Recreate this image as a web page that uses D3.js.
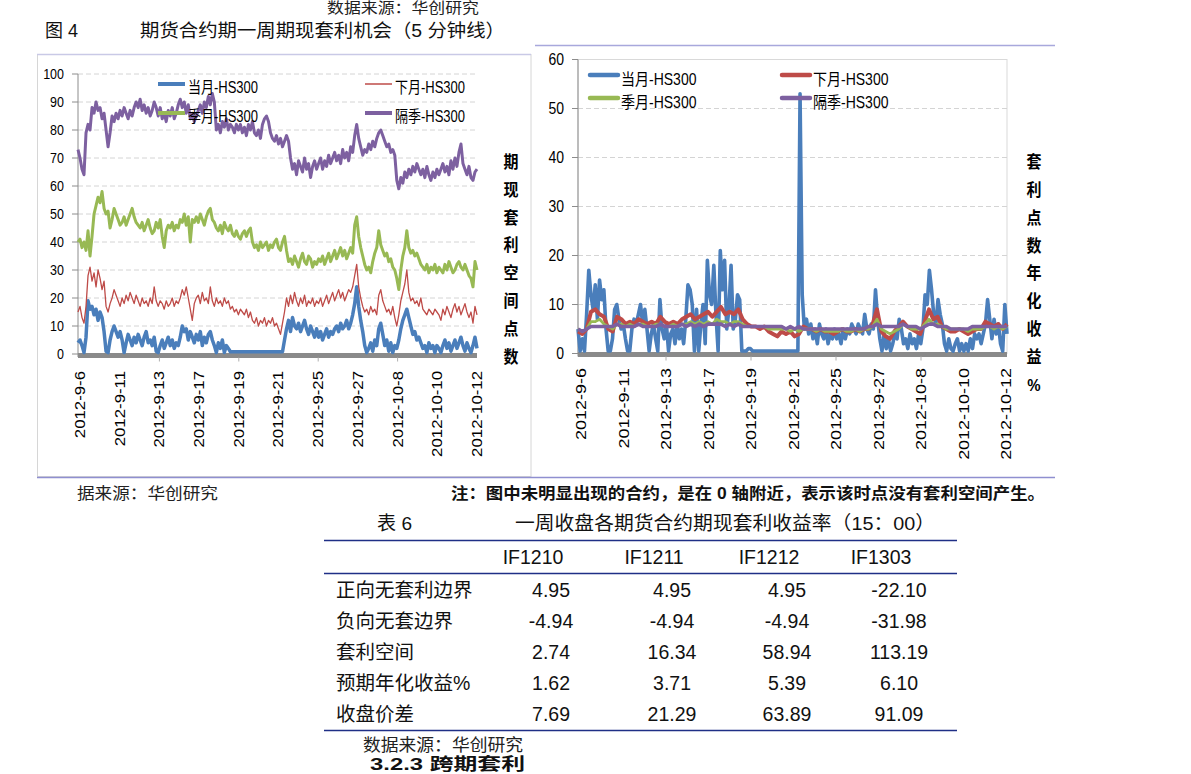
<!DOCTYPE html>
<html><head><meta charset="utf-8">
<script src="https://cdn.jsdelivr.net/npm/d3@7"></script>
<style>
body{margin:0;background:#fff;}
svg{display:block;font-family:"Liberation Sans","Noto Sans CJK SC",Arial,sans-serif;}
</style></head><body>
<svg id="c" width="1191" height="774"></svg>
<script>
// ---------- data ----------
const dateLabels = ["2012-9-6","2012-9-11","2012-9-13","2012-9-17","2012-9-19","2012-9-21","2012-9-25","2012-9-27","2012-10-8","2012-10-10","2012-10-12"];
const seriesNames = ["当月-HS300","下月-HS300","季月-HS300","隔季-HS300"];
const leftYTicks = [0,10,20,30,40,50,60,70,80,90,100];
const rightYTicks = [0,10,20,30,40,50,60];

// left chart: 期现套利空间点数
const spreadCurrent = [4,5,3,0.5,6,19,16,17,14,16,12,15,13,8,1,0.5,5,8,10,8,
 6,8,5,0.5,4,7,5,3,6,4,7,5,3,6,8,4,5,3,6,1,
 0.5,3,5,2,4,6,3,5,2,4,3,6,10,8,9,5,8,6,4,7,
 5,8,3,6,4,7,8,5,3,0.5,4,2,5,0.5,3,2,0.8,0.8,0.8,0.8,
 0.8,0.8,0.8,0.8,0.8,0.8,0.8,0.8,0.8,0.8,0.8,0.8,0.8,0.8,0.8,0.8,0.8,0.8,0.8,0.8,
 0.8,0.8,0.8,5,9,12,8,13,10,9,11,8,10,12,9,7,10,8,6,9,
 6,8,5,7,9,6,8,7,9,10,8,11,9,10,12,9,11,14,18,24,
 17,12,8,3,0.5,2,4,1,5,3,9,11,7,3,5,1,4,0.5,3,2,
 5,9,12,14,16,13,10,7,8,5,6,4,2,3,0.5,4,2,3,0.5,3,
 2,0.5,3,5,2,4,1,3,5,2,4,6,3,1,4,2,0.5,3,6,2];
const spreadNext = [15,17,13,11,17,28,31,26,29,24,30,27,23,26,17,15,18,20,23,21,
 19,17,20,18,21,19,22,20,18,21,19,17,20,18,19,17,20,18,24,19,
 17,19,18,16,19,17,18,20,17,19,18,20,23,21,24,20,16,12,18,20,
 21,18,22,19,20,18,24,19,17,20,18,19,17,20,18,19,16,17,15,16,
 14,16,15,14,16,13,15,12,11,13,10,12,11,13,10,12,11,13,10,11,
 9,7,11,15,20,17,21,18,22,19,17,20,18,21,17,19,18,20,17,19,
 18,20,17,19,21,18,20,22,19,21,23,20,22,19,21,23,22,24,28,32,
 24,20,17,15,16,14,17,15,16,14,21,23,19,17,15,16,14,17,13,10,
 14,19,22,25,30,22,19,20,18,19,17,20,16,15,14,16,15,14,16,15,
 14,12,16,14,17,15,13,16,18,15,17,14,16,18,15,13,15,11,17,14];
const spreadSeason = [40,41,38,40,37,44,35,42,50,53,56,54,58,52,50,51,45,48,52,50,
 48,46,47,49,46,48,50,52,49,47,46,45,47,44,46,48,45,43,44,47,
 45,48,42,38,44,46,45,47,44,46,45,48,47,50,46,49,40,48,47,49,
 47,50,48,46,49,51,52,48,47,45,44,46,43,47,45,44,46,43,42,44,
 42,41,43,44,42,44,45,40,38,39,37,40,38,39,40,37,39,38,40,41,
 38,37,40,42,37,33,34,32,35,33,31,34,36,33,32,35,34,31,33,32,
 34,33,35,32,34,36,33,35,37,34,36,38,35,37,34,36,38,36,46,49,
 42,38,35,32,30,31,29,33,36,38,44,39,37,35,36,33,34,31,30,27,
 23,30,35,38,44,38,36,37,35,36,34,32,31,30,32,29,31,30,32,29,
 31,30,29,32,30,33,31,29,30,32,33,31,30,32,30,28,27,24,33,30];
const spreadNextSeason = [73,70,66,64,79,82,80,88,86,90,87,88,84,86,80,74,79,85,83,86,
 84,87,85,88,86,84,87,85,88,90,88,91,87,89,86,88,85,87,90,88,
 85,88,84,86,83,87,85,88,84,86,89,91,88,90,86,89,84,86,83,85,
 87,89,86,90,88,92,89,93,90,80,82,79,83,81,84,80,82,81,79,82,
 80,82,79,81,78,82,80,83,79,78,80,77,82,84,85,83,79,77,76,78,
 75,77,74,76,78,76,70,66,68,64,69,67,65,70,66,68,63,67,69,66,
 68,70,66,69,67,71,68,70,72,69,71,68,73,70,72,69,74,72,78,82,
 77,74,71,73,72,75,73,76,74,77,79,80,78,76,74,75,72,73,71,62,
 59,63,61,65,63,66,64,67,65,68,66,64,66,63,67,64,62,65,63,66,
 64,66,68,65,67,64,69,66,70,67,72,75,68,66,64,67,63,62,65,66];

// right chart: 套利点数年化收益%
const yieldCurrent = [5,0.5,3,0.5,8,17,12,9,14,7,15,11,13,5,0.5,0.5,3,9,10,7,
 5,6,3,0.5,0.5,5,7,6,8,10,6,9,5,0.5,4,6,3,0.5,11,5,
 3,6,0.5,4,5,2,6,3,5,2,7,14,13,10,0.5,9,0.5,6,10,2,
 19,12,10,18,8,0.5,21,13,19,5,9,18,5,7,12,11,0.5,0.5,0.5,1,
 1,0.5,0.5,0.5,0.5,0.5,0.5,0.5,0.5,0.5,0.5,0.5,0.5,0.5,0.5,0.5,0.5,0.5,0.5,0.5,
 0.5,0.5,0.5,53,12,5,7,4,6,3,5,2,6,4,3,5,2,4,3,5,
 3,4,2,5,3,5,4,6,5,4,6,5,4,8,5,4,6,5,13,7,
 3,0.5,4,1,3,0.5,2,4,3,7,5,2,3,1,4,2,3,1,4,2,
 5,12,10,17,13,8,6,11,8,6,2,0.5,3,1,0.5,2,3,0.5,2,0.5,
 2,0.5,3,1,4,3,4,2,4,6,11,7,3,7,4,6,2,0.5,10,4];
const yieldNext = [4.5,4,5,8.5,9,8,7.5,5,4.5,7.5,
 7,6,6.5,6,7,6.5,6,6.5,6,7.5,
 6.5,6,6.5,6,7,7.5,8,7,7.5,8,
 8.5,7.5,8.5,9.5,8,8.5,8,9,7,6,
 5.5,5.5,5,5.5,4.5,4,3.5,4.5,4,4.5,
 3.5,4,5.5,5,5,4.5,5,4.5,4.5,4,
 4.5,5,4.5,4.5,5,4.5,5,5,6,9,
 4.5,3.5,3,4.5,5.5,6.5,5.5,5,4.5,4,
 6.5,9,7,7.5,5.5,5,4.5,4.5,5,4.5,
 4,4.5,5,5,6.5,6,5.5,6,5,6];
const yieldSeason = [5,4.5,5,6.5,6.5,7,6,5.5,5,6,
 6,5.5,6,5.5,6,6,5.5,5.5,6,6,
 5.5,5.5,6,5.5,6,6,6.5,6,6.5,6,
 6.5,6,7,6.5,6.5,6,6.5,6.5,6,5.5,
 5.5,5.5,5.5,5.5,5,5,5,5,5,4.5,
 5,4.5,5,5,5,4.5,5,4.5,4.5,4.5,
 4.5,5,4.5,4.5,5,4.5,5,5,5.5,7,
 5,4.5,4,4.5,5,6,5.5,5,5,5,
 6,7,6,6,5.5,5,5,5,5,5,
 4.5,5,5,5,5.5,5.5,5,5.5,5,5.5];
const yieldNextSeason = [5,4.5,5,5.5,5.5,5.5,5.5,5.5,5.5,6,
 5.5,5.5,5.5,5.5,6,5.5,5.5,5.5,5.5,6,
 5.5,5.5,5.5,5.5,6,5.5,6,5.5,6,5.5,
 6,6,6,6,5.5,6,5.5,6,5.5,5.5,
 5.5,5.5,5.5,5.5,5.5,5.5,5.5,5.5,5,5.5,
 5,5.5,5,5,5,5,5,5,5,5,
 5,5,5,5,5,5,5,5.5,5.5,6,
 5.5,5.5,5.5,5.5,5.5,6,5.5,5.5,5.5,5,
 5.5,6,6,5.5,5.5,5.5,5,5,5,5,
 5,5.5,5.5,5.5,5.5,5.5,5.5,5.5,5.5,5.5];

// table
const tableColumns = ["IF1210","IF1211","IF1212","IF1303"];
const tableRowLabels = ["正向无套利边界","负向无套边界","套利空间","预期年化收益%","收盘价差"];
const rowPositiveBound = [4.95,4.95,4.95,-22.10];
const rowNegativeBound = [-4.94,-4.94,-4.94,-31.98];
const rowArbSpace = [2.74,16.34,58.94,113.19];
const rowExpectedYield = [1.62,3.71,5.39,6.10];
const rowCloseSpread = [7.69,21.29,63.89,91.09];

// ---------- drawing ----------
const svg = d3.select("#c");
const colors = ["#4a7ebb","#be4b48","#98b954","#7d60a0"];

function stext(parent, x, y, str, o) {
  o = Object.assign({size:14, anchor:"start", sx:1, sy:1, rot:0, weight:"normal", fill:"#000"}, o||{});
  const t = parent.append("text")
    .attr("transform", `translate(${x},${y}) rotate(${o.rot}) scale(${o.sx},${o.sy})`)
    .attr("text-anchor", o.anchor).attr("dy", "0.35em")
    .style("font-size", o.size + "px").style("font-weight", o.weight)
    .attr("fill", o.fill).text(str);
  if (o.len) t.attr("textLength", o.len).attr("lengthAdjust", "spacingAndGlyphs");
  return t;
}

// page header
stext(svg, 327, 8, "数据来源：华创研究", {size:15, fill:"#222", len:152});
stext(svg, 45, 31, "图 4", {size:18, fill:"#111", len:33});
stext(svg, 140, 31, "期货合约期一周期现套利机会（5 分钟线）", {size:18.5, fill:"#111", len:365});
svg.append("line").attr("x1",535).attr("x2",1055).attr("y1",45.5).attr("y2",45.5).attr("stroke","#a8a8dc").attr("stroke-width",1.3);

// left chart box
svg.append("rect").attr("x",37.5).attr("y",54.5).attr("width",493.5).attr("height",422).attr("fill","none").attr("stroke","#d6d6d6");
svg.append("line").attr("x1",37).attr("x2",531).attr("y1",54.5).attr("y2",54.5).attr("stroke","#c9c9e6").attr("stroke-width",1.5);

function drawChart(cfg) {
  const g = svg.append("g");
  const top = cfg.ticks[cfg.ticks.length-1];
  const y = d3.scaleLinear().domain([0, top]).range([cfg.yb, cfg.yt]);
  const xl = d3.scalePoint().domain(dateLabels).range(cfg.labRange);
  if (cfg.border) {
    g.append("rect").attr("x", cfg.x0).attr("y", y(top)).attr("width", cfg.x1-cfg.x0)
      .attr("height", cfg.yb - y(top)).attr("fill","none").attr("stroke","#d9d9d9");
  }
  g.selectAll(".grid").data(cfg.ticks.filter(t => t > 0 && (!cfg.border || t < top)))
    .enter().append("line").attr("x1", cfg.x0).attr("x2", cfg.x1)
    .attr("y1", d => y(d)).attr("y2", d => y(d))
    .attr("stroke","#d4d4d4").attr("stroke-dasharray","5,3");
  g.append("line").attr("x1", cfg.x0).attr("x2", cfg.x0).attr("y1", y(top)).attr("y2", cfg.yb+3).attr("stroke","#8c8c8c");
  cfg.ticks.forEach(t => {
    g.append("line").attr("x1", cfg.x0-6).attr("x2", cfg.x0).attr("y1", y(t)).attr("y2", y(t)).attr("stroke","#8c8c8c");
    stext(g, cfg.ylabX, y(t), String(t), {size:cfg.ySize, anchor:"end", sy:cfg.stretch});
  });
  g.append("line").attr("x1", cfg.x0).attr("x2", cfg.x1).attr("y1", y(0)+cfg.bandOff).attr("y2", y(0)+cfg.bandOff)
    .attr("stroke","#8a8a8a").attr("stroke-width",5);
  dateLabels.forEach((d,i) => {
    if (i % 2 === 0 && i > 0 && i < dateLabels.length-1) {
      g.append("line").attr("x1", xl(d)).attr("x2", xl(d)).attr("y1", y(0)+cfg.bandOff+2).attr("y2", y(0)+cfg.bandOff+6).attr("stroke","#b0b0b0");
    }
  });
  cfg.series.forEach((s, k) => {
    const x = d3.scaleLinear().domain([0, s.length-1]).range([cfg.x0, cfg.x1]);
    const line = d3.line().x((d,i) => x(i)).y(d => y(d));
    g.append("path").datum(s).attr("d", line).attr("fill","none")
      .attr("stroke", colors[k]).attr("stroke-width", cfg.widths[k]).attr("stroke-linejoin","round");
  });
  dateLabels.forEach(d => {
    stext(g, xl(d), cfg.labTop, d, {size:cfg.xSize, anchor:"end", rot:-90, sx:cfg.stretch});
  });
  cfg.legend.forEach((L, k) => {
    g.append("line").attr("x1", L[0]).attr("x2", L[0]+cfg.legLen).attr("y1", L[1]).attr("y2", L[1])
      .attr("stroke", colors[k]).attr("stroke-width", cfg.legW[k]).attr("stroke-linecap", cfg.legCap);
    stext(g, L[0]+cfg.legLen+cfg.legGap, L[1]+cfg.legDy, seriesNames[k], {size:cfg.legSize, sy:cfg.stretch});
  });
  const chars = Array.from(cfg.title);
  const ty = d3.scalePoint().domain(d3.range(chars.length)).range(cfg.titleRange);
  chars.forEach((c,i) => stext(g, cfg.titleX, ty(i), c, {size:15, anchor:"middle", weight:"bold", sy:1.12}));
}

drawChart({
  series:[spreadCurrent, spreadNext, spreadSeason, spreadNextSeason],
  ticks:leftYTicks, x0:78, x1:477, yb:354, yt:74, labRange:[80,477], labTop:371,
  border:false, ylabX:64, ySize:12.5, xSize:14, stretch:1.2, bandOff:1.5,
  widths:[3.5,1.3,3,3],
  legend:[[158,84],[365,84],[158,113],[365,113]], legLen:27, legGap:3, legDy:4, legSize:13,
  legW:[4,1.5,4,4], legCap:"butt",
  title:"期现套利空间点数", titleX:511, titleRange:[162,357]
});
drawChart({
  series:[yieldCurrent, yieldNext, yieldSeason, yieldNextSeason],
  ticks:rightYTicks, x0:578, x1:1007, yb:353.5, yt:59.5, labRange:[581,1006], labTop:368,
  border:true, ylabX:564, ySize:14, xSize:15.5, stretch:1.16, bandOff:1,
  widths:[3.6,4,2.8,3.6],
  legend:[[590,75],[782,75],[590,98],[782,98]], legLen:28, legGap:3, legDy:4, legSize:14,
  legW:[4.5,4.5,4.5,4.5], legCap:"round",
  title:"套利点数年化收益%", titleX:1034, titleRange:[162,385]
});

// bottom rule and notes
svg.append("line").attr("x1",37).attr("x2",1055).attr("y1",477.5).attr("y2",477.5).attr("stroke","#8f8fd0").attr("stroke-width",1.3);
stext(svg, 77, 493, "据来源：华创研究", {size:16, fill:"#222", len:141});
stext(svg, 451, 493, "注：图中未明显出现的合约，是在 0 轴附近，表示该时点没有套利空间产生。", {size:16, weight:"bold", fill:"#111", len:594});

// table
const tg = svg.append("g");
stext(tg, 377, 523, "表 6", {size:19, fill:"#111", len:35});
stext(tg, 515, 523, "一周收盘各期货合约期现套利收益率（15：00）", {size:19, fill:"#111", len:420});
[540.5, 573.5, 730.5].forEach(yy => tg.append("line").attr("x1",324).attr("x2",957).attr("y1",yy).attr("y2",yy).attr("stroke","#1f2f86").attr("stroke-width",1.4));
const colX = d3.scaleOrdinal().domain(tableColumns).range([551,672,787,899]);
tableColumns.forEach(c => stext(tg, colX(c)-18, 557, c, {size:19.5, anchor:"middle", fill:"#111"}));
const tableRows = [rowPositiveBound, rowNegativeBound, rowArbSpace, rowExpectedYield, rowCloseSpread];
const rowY = d3.scalePoint().domain(tableRowLabels).range([590, 714]);
tableRowLabels.forEach((lab, r) => {
  stext(tg, 336, rowY(lab), lab, {size:19.5, fill:"#111"});
  tableRows[r].forEach((v, c) => stext(tg, colX(tableColumns[c]), rowY(lab), v.toFixed(2), {size:19.5, anchor:"middle", fill:"#111"}));
});
stext(tg, 363, 745, "数据来源：华创研究", {size:17, fill:"#222", len:160});
stext(tg, 370, 764, "3.2.3   跨期套利", {size:17, weight:"bold", fill:"#111", len:155});
</script>
</body></html>
